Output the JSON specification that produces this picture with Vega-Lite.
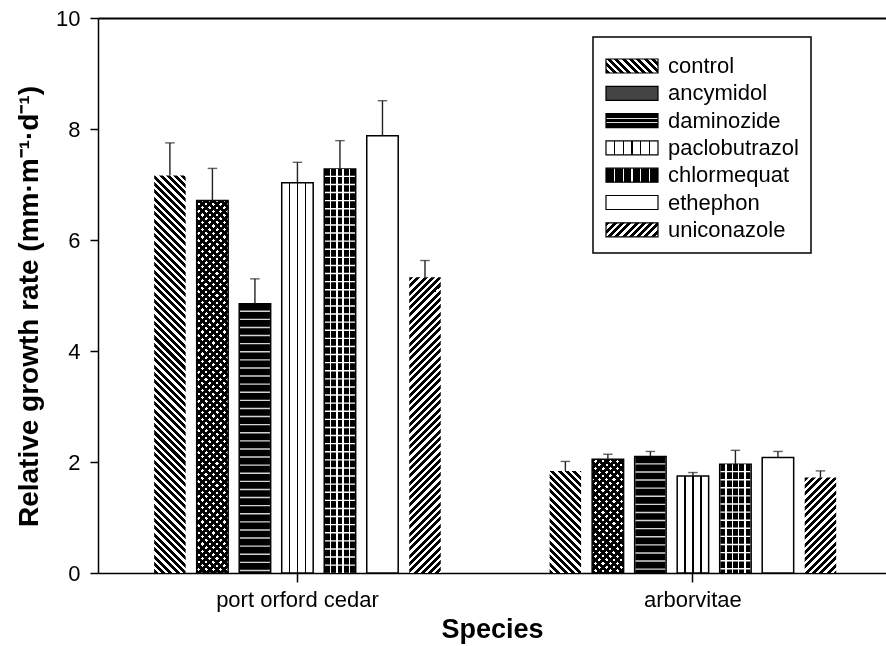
{
"$schema": "https://vega.github.io/schema/vega-lite/v6.json",
"width": 788, "height": 555,
"autosize": "none",
"padding": {"left": 98, "top": 18, "right": 0, "bottom": 73},
"background": "white",
"params": [
{"name": "diag", "value": [
{"offset":0,"color":"#000"},{"offset":0.00917,"color":"#000"},{"offset":0.00917,"color":"#fff"},{"offset":0.01667,"color":"#fff"},
{"offset":0.01667,"color":"#000"},{"offset":0.02583,"color":"#000"},{"offset":0.02583,"color":"#fff"},{"offset":0.03333,"color":"#fff"},
{"offset":0.03333,"color":"#000"},{"offset":0.0425,"color":"#000"},{"offset":0.0425,"color":"#fff"},{"offset":0.05,"color":"#fff"},
{"offset":0.05,"color":"#000"},{"offset":0.05917,"color":"#000"},{"offset":0.05917,"color":"#fff"},{"offset":0.06667,"color":"#fff"},
{"offset":0.06667,"color":"#000"},{"offset":0.07583,"color":"#000"},{"offset":0.07583,"color":"#fff"},{"offset":0.08333,"color":"#fff"},
{"offset":0.08333,"color":"#000"},{"offset":0.0925,"color":"#000"},{"offset":0.0925,"color":"#fff"},{"offset":0.1,"color":"#fff"},
{"offset":0.1,"color":"#000"},{"offset":0.10917,"color":"#000"},{"offset":0.10917,"color":"#fff"},{"offset":0.11667,"color":"#fff"},
{"offset":0.11667,"color":"#000"},{"offset":0.12583,"color":"#000"},{"offset":0.12583,"color":"#fff"},{"offset":0.13333,"color":"#fff"},
{"offset":0.13333,"color":"#000"},{"offset":0.1425,"color":"#000"},{"offset":0.1425,"color":"#fff"},{"offset":0.15,"color":"#fff"},
{"offset":0.15,"color":"#000"},{"offset":0.15917,"color":"#000"},{"offset":0.15917,"color":"#fff"},{"offset":0.16667,"color":"#fff"},
{"offset":0.16667,"color":"#000"},{"offset":0.17583,"color":"#000"},{"offset":0.17583,"color":"#fff"},{"offset":0.18333,"color":"#fff"},
{"offset":0.18333,"color":"#000"},{"offset":0.1925,"color":"#000"},{"offset":0.1925,"color":"#fff"},{"offset":0.2,"color":"#fff"},
{"offset":0.2,"color":"#000"},{"offset":0.20917,"color":"#000"},{"offset":0.20917,"color":"#fff"},{"offset":0.21667,"color":"#fff"},
{"offset":0.21667,"color":"#000"},{"offset":0.22583,"color":"#000"},{"offset":0.22583,"color":"#fff"},{"offset":0.23333,"color":"#fff"},
{"offset":0.23333,"color":"#000"},{"offset":0.2425,"color":"#000"},{"offset":0.2425,"color":"#fff"},{"offset":0.25,"color":"#fff"},
{"offset":0.25,"color":"#000"},{"offset":0.25917,"color":"#000"},{"offset":0.25917,"color":"#fff"},{"offset":0.26667,"color":"#fff"},
{"offset":0.26667,"color":"#000"},{"offset":0.27583,"color":"#000"},{"offset":0.27583,"color":"#fff"},{"offset":0.28333,"color":"#fff"},
{"offset":0.28333,"color":"#000"},{"offset":0.2925,"color":"#000"},{"offset":0.2925,"color":"#fff"},{"offset":0.3,"color":"#fff"},
{"offset":0.3,"color":"#000"},{"offset":0.30917,"color":"#000"},{"offset":0.30917,"color":"#fff"},{"offset":0.31667,"color":"#fff"},
{"offset":0.31667,"color":"#000"},{"offset":0.32583,"color":"#000"},{"offset":0.32583,"color":"#fff"},{"offset":0.33333,"color":"#fff"},
{"offset":0.33333,"color":"#000"},{"offset":0.3425,"color":"#000"},{"offset":0.3425,"color":"#fff"},{"offset":0.35,"color":"#fff"},
{"offset":0.35,"color":"#000"},{"offset":0.35917,"color":"#000"},{"offset":0.35917,"color":"#fff"},{"offset":0.36667,"color":"#fff"},
{"offset":0.36667,"color":"#000"},{"offset":0.37583,"color":"#000"},{"offset":0.37583,"color":"#fff"},{"offset":0.38333,"color":"#fff"},
{"offset":0.38333,"color":"#000"},{"offset":0.3925,"color":"#000"},{"offset":0.3925,"color":"#fff"},{"offset":0.4,"color":"#fff"},
{"offset":0.4,"color":"#000"},{"offset":0.40917,"color":"#000"},{"offset":0.40917,"color":"#fff"},{"offset":0.41667,"color":"#fff"},
{"offset":0.41667,"color":"#000"},{"offset":0.42583,"color":"#000"},{"offset":0.42583,"color":"#fff"},{"offset":0.43333,"color":"#fff"},
{"offset":0.43333,"color":"#000"},{"offset":0.4425,"color":"#000"},{"offset":0.4425,"color":"#fff"},{"offset":0.45,"color":"#fff"},
{"offset":0.45,"color":"#000"},{"offset":0.45917,"color":"#000"},{"offset":0.45917,"color":"#fff"},{"offset":0.46667,"color":"#fff"},
{"offset":0.46667,"color":"#000"},{"offset":0.47583,"color":"#000"},{"offset":0.47583,"color":"#fff"},{"offset":0.48333,"color":"#fff"},
{"offset":0.48333,"color":"#000"},{"offset":0.4925,"color":"#000"},{"offset":0.4925,"color":"#fff"},{"offset":0.5,"color":"#fff"},
{"offset":0.5,"color":"#000"},{"offset":0.50917,"color":"#000"},{"offset":0.50917,"color":"#fff"},{"offset":0.51667,"color":"#fff"},
{"offset":0.51667,"color":"#000"},{"offset":0.52583,"color":"#000"},{"offset":0.52583,"color":"#fff"},{"offset":0.53333,"color":"#fff"},
{"offset":0.53333,"color":"#000"},{"offset":0.5425,"color":"#000"},{"offset":0.5425,"color":"#fff"},{"offset":0.55,"color":"#fff"},
{"offset":0.55,"color":"#000"},{"offset":0.55917,"color":"#000"},{"offset":0.55917,"color":"#fff"},{"offset":0.56667,"color":"#fff"},
{"offset":0.56667,"color":"#000"},{"offset":0.57583,"color":"#000"},{"offset":0.57583,"color":"#fff"},{"offset":0.58333,"color":"#fff"},
{"offset":0.58333,"color":"#000"},{"offset":0.5925,"color":"#000"},{"offset":0.5925,"color":"#fff"},{"offset":0.6,"color":"#fff"},
{"offset":0.6,"color":"#000"},{"offset":0.60917,"color":"#000"},{"offset":0.60917,"color":"#fff"},{"offset":0.61667,"color":"#fff"},
{"offset":0.61667,"color":"#000"},{"offset":0.62583,"color":"#000"},{"offset":0.62583,"color":"#fff"},{"offset":0.63333,"color":"#fff"},
{"offset":0.63333,"color":"#000"},{"offset":0.6425,"color":"#000"},{"offset":0.6425,"color":"#fff"},{"offset":0.65,"color":"#fff"},
{"offset":0.65,"color":"#000"},{"offset":0.65917,"color":"#000"},{"offset":0.65917,"color":"#fff"},{"offset":0.66667,"color":"#fff"},
{"offset":0.66667,"color":"#000"},{"offset":0.67583,"color":"#000"},{"offset":0.67583,"color":"#fff"},{"offset":0.68333,"color":"#fff"},
{"offset":0.68333,"color":"#000"},{"offset":0.6925,"color":"#000"},{"offset":0.6925,"color":"#fff"},{"offset":0.7,"color":"#fff"},
{"offset":0.7,"color":"#000"},{"offset":0.70917,"color":"#000"},{"offset":0.70917,"color":"#fff"},{"offset":0.71667,"color":"#fff"},
{"offset":0.71667,"color":"#000"},{"offset":0.72583,"color":"#000"},{"offset":0.72583,"color":"#fff"},{"offset":0.73333,"color":"#fff"},
{"offset":0.73333,"color":"#000"},{"offset":0.7425,"color":"#000"},{"offset":0.7425,"color":"#fff"},{"offset":0.75,"color":"#fff"},
{"offset":0.75,"color":"#000"},{"offset":0.75917,"color":"#000"},{"offset":0.75917,"color":"#fff"},{"offset":0.76667,"color":"#fff"},
{"offset":0.76667,"color":"#000"},{"offset":0.77583,"color":"#000"},{"offset":0.77583,"color":"#fff"},{"offset":0.78333,"color":"#fff"},
{"offset":0.78333,"color":"#000"},{"offset":0.7925,"color":"#000"},{"offset":0.7925,"color":"#fff"},{"offset":0.8,"color":"#fff"},
{"offset":0.8,"color":"#000"},{"offset":0.80917,"color":"#000"},{"offset":0.80917,"color":"#fff"},{"offset":0.81667,"color":"#fff"},
{"offset":0.81667,"color":"#000"},{"offset":0.82583,"color":"#000"},{"offset":0.82583,"color":"#fff"},{"offset":0.83333,"color":"#fff"},
{"offset":0.83333,"color":"#000"},{"offset":0.8425,"color":"#000"},{"offset":0.8425,"color":"#fff"},{"offset":0.85,"color":"#fff"},
{"offset":0.85,"color":"#000"},{"offset":0.85917,"color":"#000"},{"offset":0.85917,"color":"#fff"},{"offset":0.86667,"color":"#fff"},
{"offset":0.86667,"color":"#000"},{"offset":0.87583,"color":"#000"},{"offset":0.87583,"color":"#fff"},{"offset":0.88333,"color":"#fff"},
{"offset":0.88333,"color":"#000"},{"offset":0.8925,"color":"#000"},{"offset":0.8925,"color":"#fff"},{"offset":0.9,"color":"#fff"},
{"offset":0.9,"color":"#000"},{"offset":0.90917,"color":"#000"},{"offset":0.90917,"color":"#fff"},{"offset":0.91667,"color":"#fff"},
{"offset":0.91667,"color":"#000"},{"offset":0.92583,"color":"#000"},{"offset":0.92583,"color":"#fff"},{"offset":0.93333,"color":"#fff"},
{"offset":0.93333,"color":"#000"},{"offset":0.9425,"color":"#000"},{"offset":0.9425,"color":"#fff"},{"offset":0.95,"color":"#fff"},
{"offset":0.95,"color":"#000"},{"offset":0.95917,"color":"#000"},{"offset":0.95917,"color":"#fff"},{"offset":0.96667,"color":"#fff"},
{"offset":0.96667,"color":"#000"},{"offset":0.97583,"color":"#000"},{"offset":0.97583,"color":"#fff"},{"offset":0.98333,"color":"#fff"},
{"offset":0.98333,"color":"#000"},{"offset":0.9925,"color":"#000"},{"offset":0.9925,"color":"#fff"},{"offset":1,"color":"#fff"}
]},
{"name": "pacloBar", "value": [
{"offset":0,"color":"#fff"},{"offset":0.226,"color":"#fff"},{"offset":0.226,"color":"#000"},{"offset":0.274,"color":"#000"},{"offset":0.274,"color":"#fff"},
{"offset":0.476,"color":"#fff"},{"offset":0.476,"color":"#000"},{"offset":0.524,"color":"#000"},{"offset":0.524,"color":"#fff"},
{"offset":0.726,"color":"#fff"},{"offset":0.726,"color":"#000"},{"offset":0.774,"color":"#000"},{"offset":0.774,"color":"#fff"},{"offset":1,"color":"#fff"}
]},
{"name": "damLeg", "value": [
{"offset":0,"color":"#000"},{"offset":0.3,"color":"#000"},{"offset":0.3,"color":"#ddd"},{"offset":0.42,"color":"#ddd"},{"offset":0.42,"color":"#000"},
{"offset":0.58,"color":"#000"},{"offset":0.58,"color":"#ddd"},{"offset":0.7,"color":"#ddd"},{"offset":0.7,"color":"#000"},{"offset":1,"color":"#000"}
]},
{"name": "pacloLeg", "value": [
{"offset":0,"color":"#fff"},{"offset":0.1517,"color":"#fff"},{"offset":0.1517,"color":"#000"},{"offset":0.1817,"color":"#000"},{"offset":0.1817,"color":"#fff"},
{"offset":0.3183,"color":"#fff"},{"offset":0.3183,"color":"#000"},{"offset":0.3483,"color":"#000"},{"offset":0.3483,"color":"#fff"},
{"offset":0.485,"color":"#fff"},{"offset":0.485,"color":"#000"},{"offset":0.515,"color":"#000"},{"offset":0.515,"color":"#fff"},
{"offset":0.6517,"color":"#fff"},{"offset":0.6517,"color":"#000"},{"offset":0.6817,"color":"#000"},{"offset":0.6817,"color":"#fff"},
{"offset":0.8183,"color":"#fff"},{"offset":0.8183,"color":"#000"},{"offset":0.8483,"color":"#000"},{"offset":0.8483,"color":"#fff"},{"offset":1,"color":"#fff"}
]},
{"name": "chlorLeg", "value": [
{"offset":0,"color":"#000"},{"offset":0.1517,"color":"#000"},{"offset":0.1517,"color":"#fff"},{"offset":0.1817,"color":"#fff"},{"offset":0.1817,"color":"#000"},
{"offset":0.3183,"color":"#000"},{"offset":0.3183,"color":"#fff"},{"offset":0.3483,"color":"#fff"},{"offset":0.3483,"color":"#000"},
{"offset":0.485,"color":"#000"},{"offset":0.485,"color":"#fff"},{"offset":0.515,"color":"#fff"},{"offset":0.515,"color":"#000"},
{"offset":0.6517,"color":"#000"},{"offset":0.6517,"color":"#fff"},{"offset":0.6817,"color":"#fff"},{"offset":0.6817,"color":"#000"},
{"offset":0.8183,"color":"#000"},{"offset":0.8183,"color":"#fff"},{"offset":0.8483,"color":"#fff"},{"offset":0.8483,"color":"#000"},{"offset":1,"color":"#000"}
]}
],
"data": {"values": [
{"species":"port orford cedar","treatment":"control","value":7.16,"upper":7.75},
{"species":"port orford cedar","treatment":"ancymidol","value":6.71,"upper":7.29},
{"species":"port orford cedar","treatment":"daminozide","value":4.85,"upper":5.3},
{"species":"port orford cedar","treatment":"paclobutrazol","value":7.03,"upper":7.4},
{"species":"port orford cedar","treatment":"chlormequat","value":7.28,"upper":7.79},
{"species":"port orford cedar","treatment":"ethephon","value":7.88,"upper":8.51},
{"species":"port orford cedar","treatment":"uniconazole","value":5.33,"upper":5.63},
{"species":"arborvitae","treatment":"control","value":1.84,"upper":2.01},
{"species":"arborvitae","treatment":"ancymidol","value":2.05,"upper":2.14},
{"species":"arborvitae","treatment":"daminozide","value":2.1,"upper":2.19},
{"species":"arborvitae","treatment":"paclobutrazol","value":1.75,"upper":1.81},
{"species":"arborvitae","treatment":"chlormequat","value":1.96,"upper":2.21},
{"species":"arborvitae","treatment":"ethephon","value":2.08,"upper":2.19},
{"species":"arborvitae","treatment":"uniconazole","value":1.72,"upper":1.84}
]},
"encoding": {
"x": {"field": "species", "type": "nominal", "sort": ["port orford cedar", "arborvitae"], "title": "Species",
 "scale": {"paddingInner": 0.2754, "paddingOuter": 0.134, "align": 0.53}},
"xOffset": {"field": "treatment", "type": "nominal", "sort": ["control","ancymidol","daminozide","paclobutrazol","chlormequat","ethephon","uniconazole"],
 "scale": {"paddingInner": 0.26, "paddingOuter": 0}},
"y": {"field": "value", "type": "quantitative", "stack": null, "title": "Relative growth rate (mm·m⁻¹·d⁻¹)",
 "scale": {"domain": [0, 10], "nice": false},
 "axis": {"values": [0, 2, 4, 6, 8, 10], "grid": true, "gridColor": "black", "gridWidth": 2,
  "gridOpacity": {"condition": {"test": "datum.value === 10", "value": 1}, "value": 0}}}
},
"layer": [
{"mark": {"type": "bar", "strokeWidth": 1.5},
 "encoding": {
  "fill": {"value": {"expr": "(datum.treatment==='control'||datum.treatment==='ancymidol') ? {'gradient':'linear','x1':0,'y1':1,'x2':438.4*bandwidth('xOffset')/(pow(bandwidth('xOffset'),2)+pow(scale('y',0)-scale('y',datum.value),2)),'y2':1-438.4*(scale('y',0)-scale('y',datum.value))/(pow(bandwidth('xOffset'),2)+pow(scale('y',0)-scale('y',datum.value),2)),'stops':diag} : datum.treatment==='uniconazole' ? {'gradient':'linear','x1':0,'y1':0,'x2':438.4*bandwidth('xOffset')/(pow(bandwidth('xOffset'),2)+pow(scale('y',0)-scale('y',datum.value),2)),'y2':438.4*(scale('y',0)-scale('y',datum.value))/(pow(bandwidth('xOffset'),2)+pow(scale('y',0)-scale('y',datum.value),2)),'stops':diag} : datum.treatment==='paclobutrazol' ? {'gradient':'linear','x1':0,'y1':0,'x2':1,'y2':0,'stops':pacloBar} : datum.treatment==='daminozide' ? '#d4d4d4' : 'white'"}},
  "stroke": {"value": {"expr": "(datum.treatment==='control'||datum.treatment==='uniconazole') ? 'transparent' : 'black'"}}
 }},
{"transform": [{"filter": "datum.treatment === 'daminozide' || datum.treatment === 'chlormequat'"}],
 "mark": {"type": "rule", "strokeWidth": 30, "strokeDash": [6.7, 1.4], "color": "black"},
 "encoding": {"y2": {"datum": 0}}},
{"transform": [{"filter": "datum.treatment === 'ancymidol'"}],
 "mark": {"type": "bar", "blend": "multiply"},
 "encoding": {"fill": {"value": {"expr": "{'gradient':'linear','x1':0,'y1':0,'x2':438.4*bandwidth('xOffset')/(pow(bandwidth('xOffset'),2)+pow(scale('y',0)-scale('y',datum.value),2)),'y2':438.4*(scale('y',0)-scale('y',datum.value))/(pow(bandwidth('xOffset'),2)+pow(scale('y',0)-scale('y',datum.value),2)),'stops':diag}"}}}},
{"transform": [{"filter": "datum.treatment === 'chlormequat'"}],
 "mark": {"type": "bar", "fill": {"gradient": "linear", "x1": 0, "y1": 0, "x2": 1, "y2": 0, "stops": [
  {"offset":0,"color":"rgba(255,255,255,0)"},{"offset":0.178,"color":"rgba(255,255,255,0)"},{"offset":0.178,"color":"#fff"},{"offset":0.222,"color":"#fff"},{"offset":0.222,"color":"rgba(255,255,255,0)"},
  {"offset":0.378,"color":"rgba(255,255,255,0)"},{"offset":0.378,"color":"#fff"},{"offset":0.422,"color":"#fff"},{"offset":0.422,"color":"rgba(255,255,255,0)"},
  {"offset":0.578,"color":"rgba(255,255,255,0)"},{"offset":0.578,"color":"#fff"},{"offset":0.622,"color":"#fff"},{"offset":0.622,"color":"rgba(255,255,255,0)"},
  {"offset":0.778,"color":"rgba(255,255,255,0)"},{"offset":0.778,"color":"#fff"},{"offset":0.822,"color":"#fff"},{"offset":0.822,"color":"rgba(255,255,255,0)"},{"offset":1,"color":"rgba(255,255,255,0)"}
 ]}}},
{"mark": {"type": "rule", "strokeWidth": 1.4, "color": "#222"},
 "encoding": {"y2": {"field": "upper"},
  "opacity": {"field": "treatment", "type": "nominal",
   "scale": {"domain": ["control","ancymidol","daminozide","paclobutrazol","chlormequat","ethephon","uniconazole"], "range": [1,1,1,1,1,1,1]},
   "legend": {"orient": "none", "legendX": 495, "legendY": 19, "direction": "vertical",
    "title": " ", "titleFontSize": 3, "titlePadding": 3,
    "symbolType": "M-1.43,-1H6V1H-1.43Z", "symbolSize": 196,
    "symbolStrokeColor": "black", "symbolStrokeWidth": 1.2, "symbolOpacity": 1,
    "symbolFillColor": {"expr": "datum.value==='control' ? {'gradient':'linear','x1':0,'y1':1,'x2':7.86,'y2':-1.116,'stops':diag} : datum.value==='ancymidol' ? '#444' : datum.value==='daminozide' ? {'gradient':'linear','x1':0,'y1':0,'x2':0,'y2':1,'stops':damLeg} : datum.value==='paclobutrazol' ? {'gradient':'linear','x1':0,'y1':0,'x2':1,'y2':0,'stops':pacloLeg} : datum.value==='chlormequat' ? {'gradient':'linear','x1':0,'y1':0,'x2':1,'y2':0,'stops':chlorLeg} : datum.value==='uniconazole' ? {'gradient':'linear','x1':0,'y1':0,'x2':7.86,'y2':2.116,'stops':diag} : 'white'"},
    "labelFont": "Liberation Sans", "labelFontSize": 22, "labelColor": "black", "labelOffset": 41, "labelLimit": 300,
    "rowPadding": 5.3, "padding": 12, "strokeColor": "black"}}}},
{"mark": {"type": "tick", "size": 9.5, "thickness": 1.4, "color": "#222"},
 "encoding": {"y": {"field": "upper", "type": "quantitative", "stack": null, "title": "Relative growth rate (mm·m⁻¹·d⁻¹)",
  "scale": {"domain": [0, 10], "nice": false},
  "axis": {"values": [0, 2, 4, 6, 8, 10], "grid": true, "gridColor": "black", "gridWidth": 2,
   "gridOpacity": {"condition": {"test": "datum.value === 10", "value": 1}, "value": 0}}}}}
],
"config": {
"view": {"stroke": null},
"font": "Liberation Sans",
"legend": {"strokeWidth": 1.5},
"axis": {"domainColor": "black", "domainWidth": 1.5, "tickColor": "black", "tickWidth": 1.5, "labelColor": "black", "titleColor": "black",
 "labelFont": "Liberation Sans", "titleFont": "Liberation Sans", "labelFontSize": 22, "titleFontSize": 28, "titleFontWeight": "bold"},
"axisX": {"labelAngle": 0, "tickSize": 9, "labelPadding": 24, "labelBaseline": "alphabetic", "titleY": 64, "titleFontSize": 27, "titleBaseline": "alphabetic", "grid": false},
"axisY": {"tickSize": 8, "labelPadding": 10, "titleX": -61, "titleY": 288, "titleBaseline": "alphabetic"}
}
}
